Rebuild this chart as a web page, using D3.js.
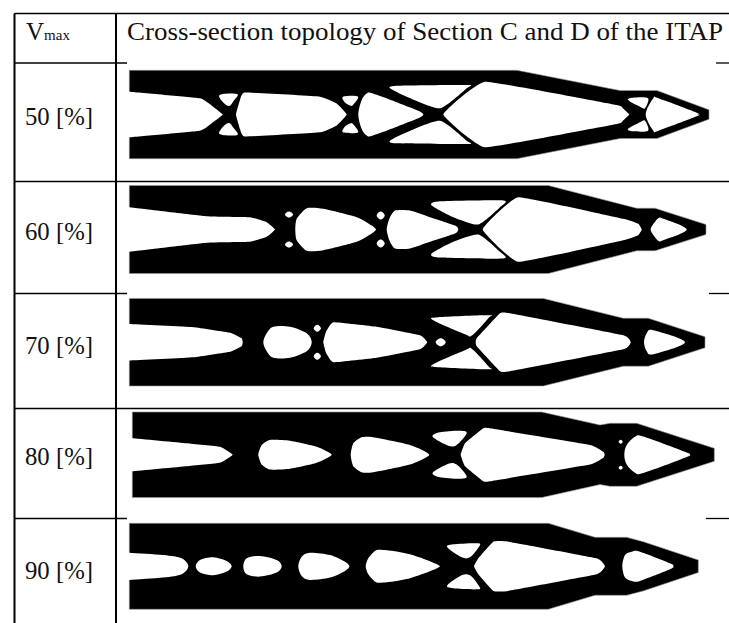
<!DOCTYPE html>
<html><head><meta charset="utf-8">
<script src="https://cdn.jsdelivr.net/npm/d3@7"></script>
<style>html,body{margin:0;padding:0;background:#fff}svg{display:block}text{font-family:"Liberation Serif",serif;fill:#111}</style>
</head><body><svg id="c" width="729" height="623"></svg>
<script>
const rowLabels=["50 [%]","60 [%]","70 [%]","80 [%]","90 [%]"];
const headerLabel="Cross-section topology of Section C and D of the ITAP";
const rowCentres=[114.5,229.5,342.2,454.8,566.3];
const labelBaselines=[125,240,354,465,579];
// [position along section, half-height from the centreline]; mirrored about the centreline
const outline50=[[129.3,44.2],[517,44.2],[620,24],[657,24],[709,4.7]];
const outline60=[[129.3,44],[548.3,44],[636.7,21.3],[655,21.3],[706,5]];
const outline70=[[129.3,43.8],[543.3,43.8],[623.3,24],[648.3,24],[705,5.5]];
const outline80=[[132.3,42.8],[541.7,42.8],[600,29.8],[610,31.5],[636.7,31.5],[714.3,6.5]];
const outline90=[[129.3,43],[548.3,43],[595,29],[626.7,29],[643.3,24.6],[698.3,6.3]];
// holes crossing the centreline (upper half, left to right)
const holes50=[
 [[122,22.8],[129.3,22.8],[200,16.2],[213,7.8],[222.7,0]],
 [[236,0],[240,14.5],[245,22],[320,17.8],[336.7,11],[346.7,0]],
 [[358.3,0],[361.7,14.5],[366.7,21],[373,21],[405,9],[423.3,0]],
 [[443.3,0],[485,32.8],[616.7,9.5],[623,6],[629.3,0]],
 [[645.7,0],[653.3,16.2],[658.3,16.2],[696.7,1.8],[697.5,0]]];
const holes60=[
 [[122,22.3],[129.3,22.3],[206.7,13.3],[250,12.3],[266.7,7.3],[275,0]],
 [[295.3,0],[296.7,10.7],[306.7,21.3],[323.3,20.7],[356.7,12.3],[371.7,4],[376,0]],
 [[386.7,0],[389.3,10.7],[395,19],[410,19],[430,12.3],[455,4],[458.3,0]],
 [[482.7,0],[518.3,32.3],[623.3,10.7],[638.3,5.7],[641.7,0]],
 [[650.7,0],[652.3,4],[658.3,11.3],[663.3,10.7],[686.7,0]]];
const holes70=[
 [[122,18.2],[129.3,18.2],[193.3,15],[230,9.5],[241.7,4],[242.7,0]],
 [[263.3,0],[266.7,9],[273.3,15.5],[290,15.5],[306.7,9],[311.7,0]],
 [[323.3,0],[326,10.5],[333.3,20],[376.7,15.5],[420,7],[427.3,0]],
 [[435.7,0],[440.7,4],[445.7,0]],
 [[475.7,0],[476.7,4],[500,29],[510,29],[623.3,7],[630.7,0]],
 [[644,0],[646.7,9],[653.3,12],[685,0]]];
const holes80=[
 [[122,16.5],[132.3,16.5],[186.7,11.5],[220,8],[232.7,0]],
 [[258.3,0],[261.7,9.8],[270,14.8],[290,14],[316.7,8],[331.7,0]],
 [[350.7,0],[353.3,11.5],[361.7,17.5],[373.3,17.5],[410,9.8],[429.3,0]],
 [[460.7,0],[465,11.5],[483.3,26.5],[490,26.5],[590,9.8],[603.3,3],[604.7,0]],
 [[624.3,0],[626.7,9.8],[635,18],[643.3,18.3],[685,3],[690,0]]];
const holes90=[
 [[122,13.6],[129.3,13.6],[163.3,11.3],[181.7,8],[188.3,0]],
 [[195.7,0],[200,6.3],[213.3,9],[226.7,5.3],[231.7,0]],
 [[243.3,0],[246.7,8],[260,10.3],[276.7,6.3],[281.7,0]],
 [[298.3,0],[301.7,9.6],[310,13.6],[330,11.3],[345,4.6],[349.3,0]],
 [[365.7,0],[368.3,8],[376.7,16.3],[393.3,15.3],[410,12],[426.7,6.3],[440,0]],
 [[474,0],[478.3,8],[493.3,24.6],[508.3,24.6],[596.7,8],[605,0]],
 [[622.3,0],[625,11.3],[631.7,14.6],[640,14.6],[670,3],[673.3,0]]];
// mirrored pairs of holes off the centreline
const pairs50=[
 [[219,18.5],[225,20.8],[237.7,20.2],[233,12.8],[229.3,8.5],[224,11.2]],
 [[343,17.8],[358,18],[353,9.5],[350,9],[345,12]],
 [[390,26.2],[396.7,28.8],[468,29.5],[466.7,26.2],[440,6.2],[406.7,17.8]],
 [[628,14.5],[633,16.8],[648,16.2],[645,6.2],[640,7.8]]];
const pairs60=[
 [[285,15],[289,18],[293,15],[289,12]],
 [[376.7,14],[380.7,18],[384.7,14],[380.7,10]],
 [[431.7,24],[438.3,28],[503.3,29],[500,22.3],[478.3,5],[453.3,12.3]]];
const pairs70=[
 [[313.8,14],[317.3,17.5],[320.8,14],[317.3,10.5]],
 [[433.3,22],[438.3,25],[488.3,27],[488.3,24],[472.3,7],[465,8]]];
const pairs80=[
 [[432.7,18],[440,22.5],[460,24],[466.7,21.5],[456.7,9.8],[448.3,9]],
 [[618.7,13],[620.7,15],[622.7,13],[620.7,11]]];
const pairs90=[
 [[447.3,19],[453.3,22],[478.3,23],[478.3,18.6],[470,9],[461.7,9]]];
const outlines=[outline50,outline60,outline70,outline80,outline90];
const holes=[holes50,holes60,holes70,holes80,holes90];
const pairs=[pairs50,pairs60,pairs70,pairs80,pairs90];
// table rules
const ruleYs=[13.5,63,181.5,293.5,408.5,518.5];
const ruleGaps=[null,[127,716],null,[127,709],null,[127,706]];
const columnXs=[14.5,116];

const W=729,H=623,svg=d3.select("#c");
const x=d3.scaleLinear().domain([0,W]).range([0,W]);
const closedPath=(ys,pts)=>{
  const span=d3.max(pts,d=>d[0])-d3.min(pts,d=>d[0]);
  const t=span<15?-0.2:span<70?0.1:span<100?0.4:0.72;
  return d3.line().x(d=>x(d[0])).y(d=>ys(d[1])).curve(d3.curveCardinalClosed.tension(t))(pts);
};
rowCentres.forEach((c,i)=>{
  const y=d3.scaleLinear().domain([-50,50]).range([c+50,c-50]);
  const g=svg.append("g");
  const mir=a=>a.concat(a.slice().reverse().filter(p=>p[1]!==0).map(p=>[p[0],-p[1]]));
  g.append("path").attr("d",d3.line().x(d=>x(d[0])).y(d=>y(d[1]))(mir(outlines[i]))+"Z")
   .attr("fill","#000").attr("stroke","#999").attr("stroke-width",0.6);
  g.selectAll("path.h").data(holes[i]).join("path").attr("class","h")
   .attr("fill","#fff").attr("d",h=>closedPath(y,mir(h)));
  g.selectAll("path.p").data(pairs[i].flatMap(p=>[p,p.map(q=>[q[0],-q[1]])])).join("path").attr("class","p")
   .attr("fill","#fff").attr("d",p=>closedPath(y,p));
});
const rule=(a,b,c,d,w)=>svg.append("line").attr("x1",a).attr("x2",b).attr("y1",c).attr("y2",d).attr("stroke","#000").attr("stroke-width",w);
ruleYs.forEach((yy,i)=>{
  const gap=ruleGaps[i];
  if(gap){rule(columnXs[0],gap[0],yy,yy,1.3);rule(gap[1],W,yy,yy,1.3);}
  else rule(columnXs[0],W,yy,yy,1.3);
});
columnXs.forEach(cx=>rule(cx,cx,ruleYs[0],H,2));
const hdr=svg.append("text").attr("x",26).attr("y",39.5).attr("font-size",25);
hdr.append("tspan").text("V");
hdr.append("tspan").attr("font-size",15).text("max");
svg.append("text").attr("x",127).attr("y",39.5).attr("font-size",24.5)
  .attr("textLength",596).attr("lengthAdjust","spacingAndGlyphs").text(headerLabel);
svg.selectAll("text.r").data(rowLabels).join("text").attr("class","r")
  .attr("x",25).attr("y",(d,i)=>labelBaselines[i]).attr("font-size",24.5)
  .attr("textLength",68).attr("lengthAdjust","spacingAndGlyphs").text(d=>d);
</script></body></html>
